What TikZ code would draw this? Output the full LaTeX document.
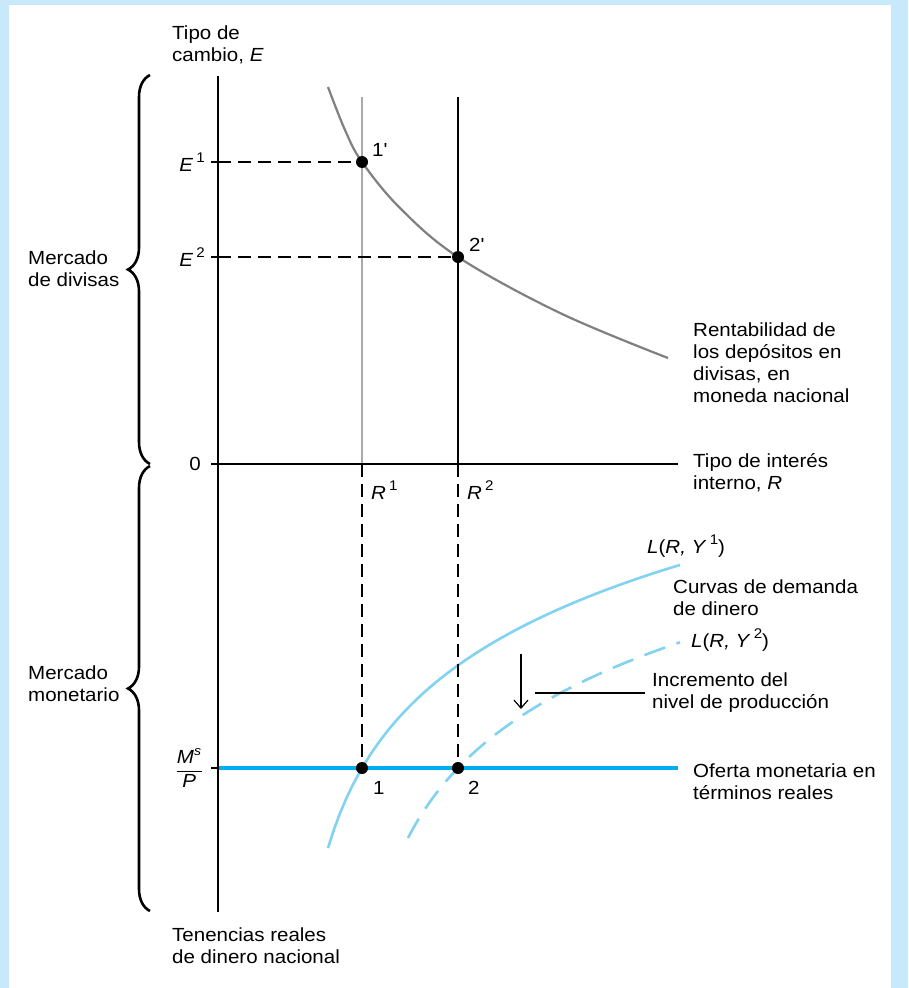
\documentclass[tikz,border=0pt]{standalone}
\usepackage{fontspec}
\setmainfont{Liberation Sans}[FakeStretch=1.08]
\newfontfamily\plainfont{Liberation Sans}[FakeStretch=1.08]
\usetikzlibrary{decorations.pathreplacing,arrows.meta}

\definecolor{bgblue}{RGB}{200,233,249}
\definecolor{supplyblue}{RGB}{0,174,239}
\definecolor{demandblue}{RGB}{130,210,242}
\definecolor{curvegray}{RGB}{128,128,128}
\definecolor{linegray}{RGB}{170,170,170}

\newcommand{\sups}[1]{\raisebox{0.45em}{\fontsize{14}{14}\selectfont #1}}
\newcommand{\prm}{{\plainfont '}}

\tikzset{
	lbl/.style={inner sep=0pt, align=left, font=\fontsize{19}{22}\selectfont},
	dot/.style={circle, fill=black, inner sep=0pt, minimum size=12pt},
	guide/.style={dash pattern=on 13pt off 7pt, line width=1.2pt},
	axis/.style={line width=2.6pt},
	tick/.style={line width=1.2pt},
	bracket/.style={decorate, decoration={brace, amplitude=22pt}, line width=2.6pt},
}

\begin{document}
\begin{tikzpicture}[x=1pt, y=-1pt]
			
			\fill[bgblue] (0,0) rectangle (908,988);
			\fill[white] (9,5) rectangle (891,988);
			\useasboundingbox (0,0) rectangle (908,988);
			
			\coordinate (top) at (218, 76);
\coordinate (O) at (218, 464);
\coordinate (bot) at (218, 912);
\coordinate (Rend) at (678, 464);
\coordinate (E1) at (218, 162);
\coordinate (E2) at (218, 257);
\coordinate (MP) at (218, 768);
\coordinate (MPend) at (678, 768);
\coordinate (R1top) at (362, 97);
\coordinate (R2top) at (458, 97);
\coordinate (R1) at (362, 464);
\coordinate (R2) at (458, 464);
\coordinate (q1p) at (362, 162);
\coordinate (q2p) at (458, 257);
\coordinate (q1) at (362, 768);
\coordinate (q2) at (458, 768);

			
			\draw[bracket] (150, 464) -- (150, 75);
			\draw[bracket] (150, 911) -- (150, 466);
			
			\draw[line width=2.4pt, linegray] (R1top) -- (R1);
			\draw[line width=2.4pt] (R2top) -- (R2);
			
			\draw[line width=2.2pt, curvegray] plot[smooth, tension=0.6] coordinates {(328,87) (345,130) (q1p) (400,208) (q2p) (560,313) (668,358)};
			\draw[line width=2.6pt, demandblue] plot[domain=328:680, samples=60] (\x, {1266.8-117.8*ln(\x-293)});
			\draw[line width=2.6pt, demandblue, dash pattern=on 22pt off 12pt] plot[domain=408:680, samples=60] (\x, {1294.7-112.5*ln(\x-350)});
			
			\draw[guide] (E1) -- (q1p);
\draw[guide] (E2) -- (q2p);
\draw[guide] (R1) -- (q1);
\draw[guide] (R2) -- (q2);

			\draw[tick] (E1) -- ++(-7,0);
\draw[tick] (E2) -- ++(-7,0);
\draw[tick] (O) -- ++(-7,0);
\draw[tick] (MP) -- ++(-7,0);

			\draw[line width=3.2pt, supplyblue] (MP) -- (MPend);
			\draw[axis] (top) -- (bot);
			\draw[axis] (O) -- (Rend);
			
			\node[dot] (p1p) at (q1p) {};
\node[dot] (p2p) at (q2p) {};
\node[dot] (p1) at (q1) {};
\node[dot] (p2) at (q2) {};

			\coordinate (arrtop) at (521, 654);
			\coordinate (arrbot) at (521, 709);
			\draw[line width=1.2pt, -{Straight Barb[length=8pt, width=14pt]}] (arrtop) -- (arrbot);
			\coordinate (leadL) at (535, 693);
			\coordinate (leadR) at (645, 693);
			\draw[line width=1.2pt] (leadL) -- (leadR);
			
			\node[lbl, anchor=north west] (ylab) at (172, 26) {Tipo de\\cambio, \textit{E}};
			\node[lbl, anchor=north west] (fx) at (28, 251) {Mercado\\de divisas};
			\node[lbl, anchor=north west] (mm) at (28, 666) {Mercado\\monetario};
			\node[lbl, anchor=east] (zero) at (201, 464) {0};
			\node[lbl, anchor=east] (e1lab) at (205, 162) {\textit{E}\,\sups{1}};
			\node[lbl, anchor=east] (e2lab) at (205, 257) {\textit{E}\,\sups{2}};
			\node[lbl, anchor=east] (mplab) at (203, 768) {$\displaystyle\frac{\textit{M}^{\textit{\fontsize{13}{13}\selectfont s}}}{\textit{P}}$};
			\node[lbl, anchor=west] (r1lab) at (371, 490) {\textit{R}\,\sups{1}};
			\node[lbl, anchor=west] (r2lab) at (467, 490) {\textit{R}\,\sups{2}};
			\node[lbl, anchor=west] (l1p) at (372, 150) {1\prm};
			\node[lbl, anchor=west] (l2p) at (469, 245) {2\prm};
			\node[lbl, anchor=west] (l1) at (373, 788) {1};
			\node[lbl, anchor=west] (l2) at (468, 788) {2};
			\node[lbl, anchor=north west] (rent) at (693, 323) {Rentabilidad de\\los depósitos en\\divisas, en\\moneda nacional};
			\node[lbl, anchor=north west] (xlab) at (693, 453) {Tipo de interés\\interno, \textit{R}};
			\node[lbl, anchor=west] (ly1) at (647, 546) {\textit{L}(\textit{R, Y}\,\sups{1})};
			\node[lbl, anchor=north west] (curv) at (673, 580) {Curvas de demanda\\de dinero};
			\node[lbl, anchor=west] (ly2) at (691, 640) {\textit{L}(\textit{R, Y}\,\sups{2})};
			\node[lbl, anchor=north west] (incr) at (652, 673) {Incremento del\\nivel de producción};
			\node[lbl, anchor=north west] (ofer) at (693, 764) {Oferta monetaria en\\términos reales};
			\node[lbl, anchor=north west] (hold) at (172, 928) {Tenencias reales\\de dinero nacional};
			
		\end{tikzpicture}
\end{document}
